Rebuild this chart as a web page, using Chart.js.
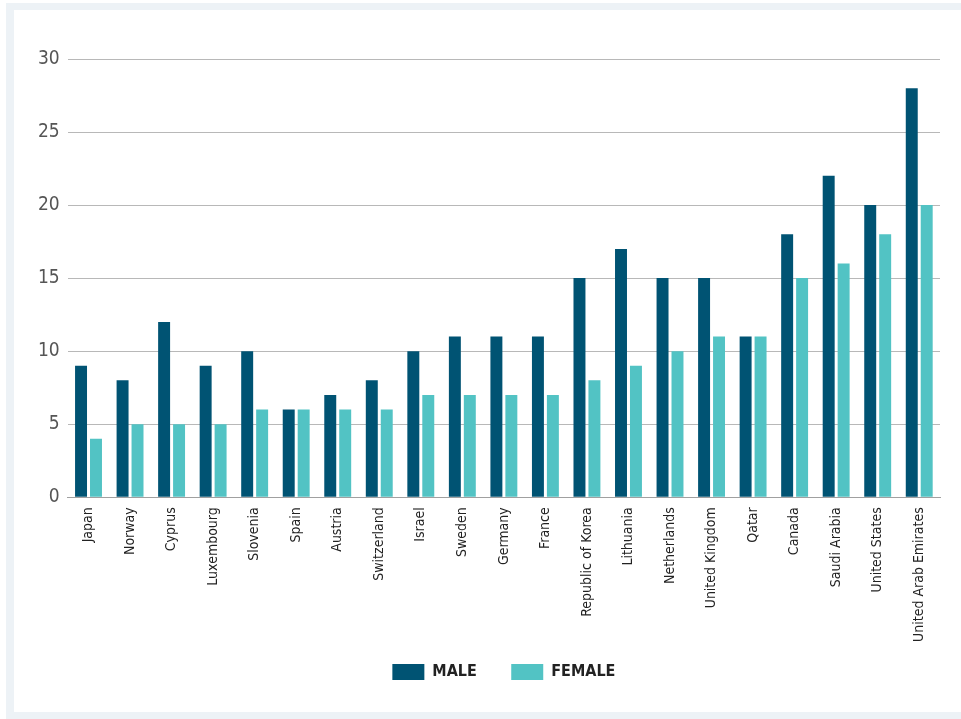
<!DOCTYPE html>
<html lang="en">
<head>
<meta charset="UTF-8">
<title>Male / Female by country</title>
<style>
body { margin: 0; background: #fff; font-family: "Liberation Sans Narrow", "DejaVu Sans Condensed", Arial, sans-serif; }
.outer { position: absolute; left: 6px; top: 3px; width: 955px; height: 716px; background: #edf2f6; }
.inner { position: absolute; left: 14px; top: 10px; width: 947px; height: 702px; background: #fff; }
.wrap { position: absolute; left: 0; top: 0; width: 961px; height: 719px; }
</style>
</head>
<body>
<div class="outer"></div>
<div class="inner"></div>
<div class="wrap"><canvas id="chart"></canvas></div>
<script src="https://cdn.jsdelivr.net/npm/chart.js@4.4.1/dist/chart.umd.min.js"></script>
<script>
const countries = ['Japan', 'Norway', 'Cyprus', 'Luxembourg', 'Slovenia', 'Spain', 'Austria', 'Switzerland',
  'Israel', 'Sweden', 'Germany', 'France', 'Republic of Korea', 'Lithuania', 'Netherlands',
  'United Kingdom', 'Qatar', 'Canada', 'Saudi Arabia', 'United States', 'United Arab Emirates'];
const male = [9, 8, 12, 9, 10, 6, 7, 8, 10, 11, 11, 11, 15, 17, 15, 15, 11, 18, 22, 20, 28];
const female = [4, 5, 5, 5, 6, 6, 6, 6, 7, 7, 7, 7, 8, 9, 10, 11, 11, 15, 16, 18, 20];
const yTicks = [0, 5, 10, 15, 20, 25, 30];

const font = '"Liberation Sans Narrow", "DejaVu Sans Condensed", Arial, sans-serif';
const defaultLabels = Chart.defaults.plugins.legend.labels.generateLabels;

new Chart(document.getElementById('chart'), {
  type: 'bar',
  data: {
    labels: countries,
    datasets: [
      { label: 'MALE', data: male, backgroundColor: '#005373' },
      { label: 'FEMALE', data: female, backgroundColor: '#52c3c4' }
    ]
  },
  options: {
    responsive: true,
    maintainAspectRatio: false,
    animation: false,
    layout: { padding: { left: 30, right: 21, top: 59, bottom: 29 } },
    categoryPercentage: 0.72,
    barPercentage: 0.8,
    scales: {
      x: {
        grid: { display: false },
        border: { color: '#a0a0a0' },
        ticks: { color: '#222', font: { family: font, size: 14 }, maxRotation: 90, minRotation: 90, padding: 2 }
      },
      y: {
        min: 0, max: 30,
        afterBuildTicks: axis => { axis.ticks = yTicks.map(v => ({ value: v })); },
        grid: { color: '#b8b8b8', drawTicks: false },
        border: { display: false },
        ticks: { color: '#555', font: { family: font, size: 19 }, padding: 8 }
      }
    },
    plugins: {
      legend: {
        position: 'bottom',
        fullSize: false,
        labels: {
          boxWidth: 32, boxHeight: 16, padding: 20, color: '#222',
          font: { family: font, size: 16, weight: 'bold' },
          // wider gap between the two legend items
          generateLabels: chart => defaultLabels(chart).map((l, i, arr) => {
            if (i < arr.length - 1) l.text += '\u2003';
            return l;
          })
        }
      },
      tooltip: { enabled: false }
    }
  }
});
</script>
</body>
</html>
